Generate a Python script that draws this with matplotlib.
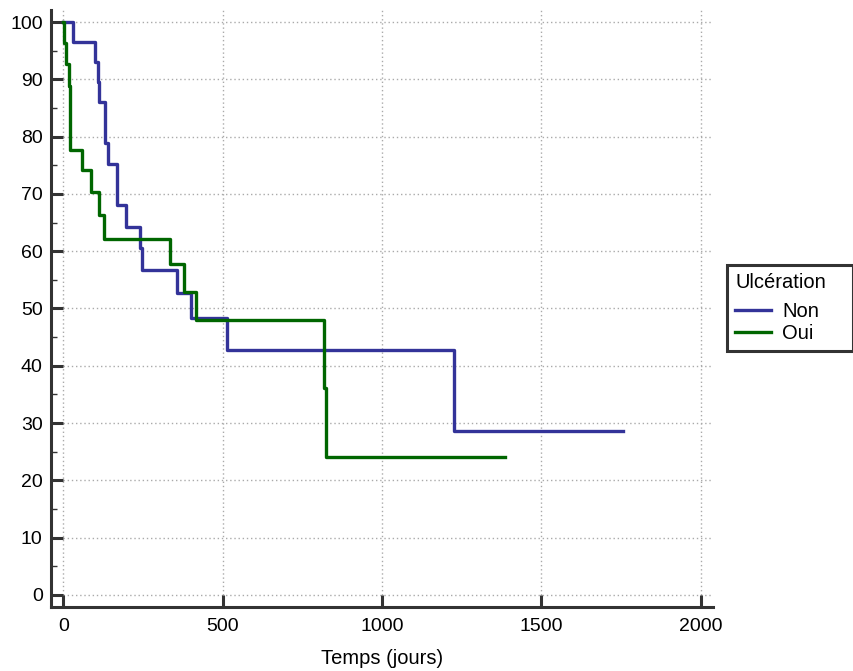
"""Kaplan-Meier curves by ulceration status"""

import matplotlib
matplotlib.use('Agg')
import matplotlib.pyplot as plt

plt.rcParams['font.family'] = ['Liberation Sans', 'DejaVu Sans']

# survival curves (days, % surviving)
non_days = [0, 31, 100, 108, 112, 131, 141, 168, 197, 240, 248, 358, 402,
            515, 1225, 1755]
non_surv = [100, 96.6, 93.1, 89.6, 86.0, 78.8, 75.3, 68.1, 64.3, 60.6, 56.7,
            52.7, 48.3, 42.8, 28.7, 28.7]

oui_days = [0, 1, 8, 16, 21, 58, 87, 113, 128, 335, 378, 417, 819, 824, 1387]
oui_surv = [100, 96.3, 92.6, 88.8, 77.7, 74.1, 70.4, 66.3, 62.2, 57.8, 52.8,
            48.0, 36.1, 24.0, 24.0]

x_ticks = [0, 500, 1000, 1500, 2000]
y_ticks = [0, 10, 20, 30, 40, 50, 60, 70, 80, 90, 100]
y_minor = [5, 15, 25, 35, 45, 55, 65, 75, 85, 95]

BLUE = '#333399'
GREEN = '#006600'
DARK = '#333333'


def plot_km():
    """Plots survival figure"""
    fig = plt.figure(figsize=(8.54, 6.71), dpi=100)
    ax = fig.add_axes([51 / 854, 1 - 607 / 671, 662 / 854, 597 / 671])

    xmax, ymax = 2039, 102.1
    ax.set_xlim(-39, xmax)
    ax.set_ylim(-2.1, ymax)

    # grid limited to the data area
    ax.hlines(y_ticks, 0, xmax, colors='#aaaaaa', linestyles=(0, (1, 2)),
              linewidth=1, zorder=1)
    ax.vlines(x_ticks, 0, ymax, colors='#aaaaaa', linestyles=(0, (1, 2)),
              linewidth=1, zorder=1)

    ax.plot(non_days, non_surv, drawstyle='steps-post', color=BLUE,
            linewidth=2.4, label='Non', zorder=3)
    ax.plot(oui_days, oui_surv, drawstyle='steps-post', color=GREEN,
            linewidth=2.4, label='Oui', zorder=3)

    for side in ['top', 'right']:
        ax.spines[side].set_visible(False)
    for side in ['left', 'bottom']:
        ax.spines[side].set_linewidth(2.2)
        ax.spines[side].set_color(DARK)

    ax.set_xticks(x_ticks)
    ax.set_yticks(y_ticks)
    ax.set_yticks(y_minor, minor=True)
    ax.tick_params(which='major', direction='in', length=8.5, width=2.2,
                   color=DARK, labelsize=14, pad=6)
    ax.tick_params(axis='x', which='major', pad=8)
    ax.tick_params(axis='y', which='minor', direction='in', length=4,
                   width=1, color=DARK)

    ax.set_xlabel('Temps (jours)', fontsize=14.5, labelpad=10)

    # legend box stretched to the right edge like the original
    left, top = 727 / 854, 1 - 265 / 671
    leg = ax.legend(title='Ulcération', loc='upper left',
                    bbox_to_anchor=(left, top - 0.2, 126 / 854, 0.2),
                    bbox_transform=fig.transFigure, borderaxespad=0,
                    mode='expand', fontsize=14.5, title_fontsize=14.5,
                    fancybox=False, framealpha=1, edgecolor=DARK,
                    handlelength=1.8, handletextpad=0.55, labelspacing=0.15,
                    borderpad=0.4, alignment='left')
    leg.get_frame().set_linewidth(2.2)
    leg._legend_box.sep = 7

    fig.savefig('out.png', dpi=100)


if __name__ == "__main__":
    plot_km()
